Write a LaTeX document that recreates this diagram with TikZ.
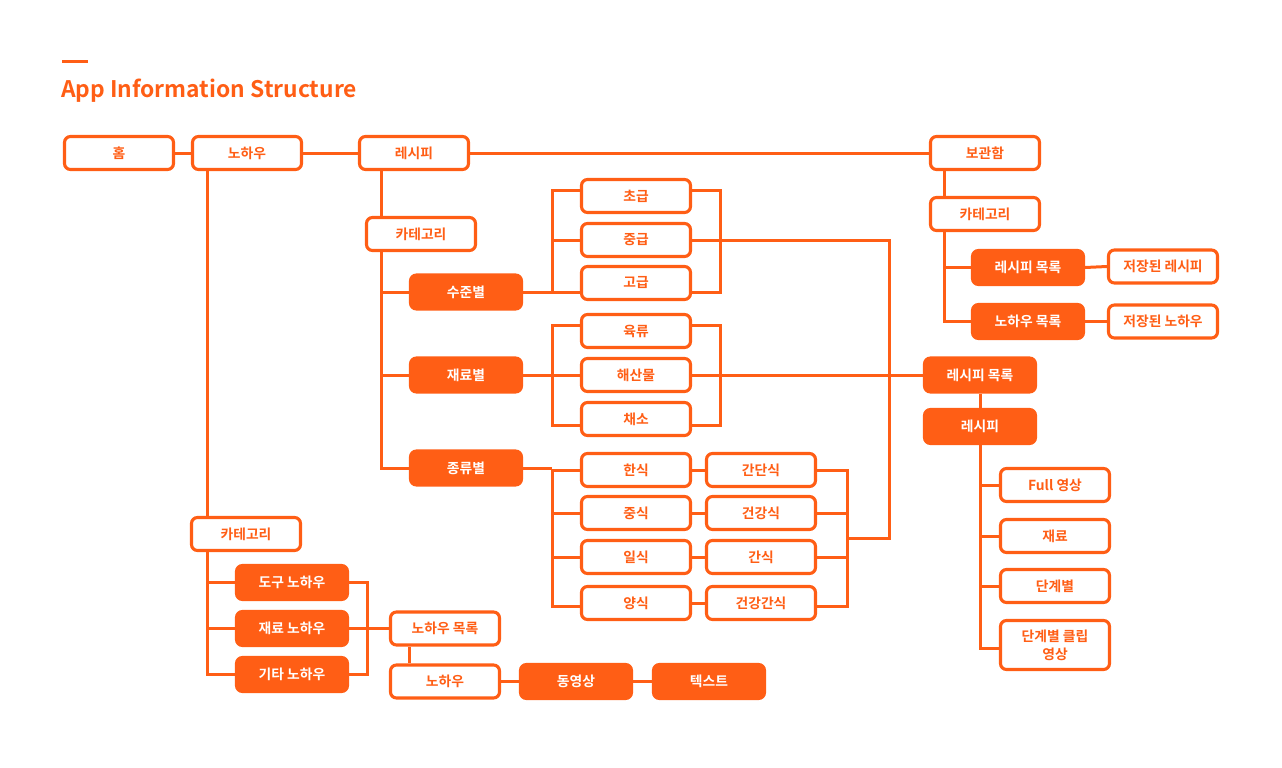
\documentclass[tikz,border=0pt]{standalone}
\usepackage{fontspec}
\setmainfont{Noto Sans CJK KR}[BoldFont={Noto Sans CJK KR Bold}]
\definecolor{org}{RGB}{255,94,21}
\tikzset{
  box/.style={draw=org, line width=3.1pt, rounded corners=6pt, fill=white, text=org,
    minimum width=109pt, minimum height=33pt, inner sep=0pt,
    font=\bfseries\fontsize{13.8}{16}\selectfont, align=center},
  fbox/.style={box, fill=org, text=white, minimum width=111pt, minimum height=34pt},
  conn/.style={draw=org, line width=3pt},
}
\begin{document}
\begin{tikzpicture}[x=1pt,y=-1pt]
\useasboundingbox (0,0) rectangle (1282,768);
% title
\fill[org] (62,60.5) rectangle (88,63.5);
\node[anchor=base west, inner sep=0pt, text=org, font=\bfseries\fontsize{22.8}{26}\selectfont] (title) at (61,97) {App Information Structure};

% top row
\node[box] (home) at (119,153) {홈};
\node[box] (nohau) at (247,153) {노하우};
\node[box] (recipe) at (414,153) {레시피};
\node[box] (bogwan) at (985,153) {보관함};

% recipe branch
\node[box] (rcat) at (421,234) {카테고리};
\node[fbox] (sujun) at (466,292) {수준별};
\node[fbox] (jaeryo) at (466,375) {재료별};
\node[fbox] (jong) at (466,468) {종류별};

\node[box] (cho) at (636,196) {초급};
\node[box] (jung) at (636,240) {중급};
\node[box] (go) at (636,283) {고급};

\node[box] (yuk) at (636,331) {육류};
\node[box] (hae) at (636,375) {해산물};
\node[box] (chae) at (636,419) {채소};

\node[box] (han) at (636,470) {한식};
\node[box] (jungsik) at (636,513) {중식};
\node[box] (il) at (636,557) {일식};
\node[box] (yang) at (636,603) {양식};

\node[box] (gandan) at (761,470) {간단식};
\node[box] (geongang) at (761,513) {건강식};
\node[box] (gansik) at (761,557) {간식};
\node[box] (gg) at (761,603) {건강간식};

% right recipe column
\node[fbox] (rlist) at (980,375) {레시피 목록};
\node[fbox] (recipe2) at (980,426.5) {레시피};
\node[box] (full) at (1055,485) {Full 영상};
\node[box] (jr) at (1055,536) {재료};
\node[box] (dan) at (1055,586) {단계별};
\node[box, minimum height=49pt] (clip) at (1055,645) {단계별 클립\\[2pt]영상};

% storage
\node[box] (scat) at (985,214) {카테고리};
\node[fbox] (srlist) at (1028,267.5) {레시피 목록};
\node[fbox] (snlist) at (1028,321.5) {노하우 목록};
\node[box] (saved1) at (1163,266.5) {저장된 레시피};
\node[box] (saved2) at (1163,321.5) {저장된 노하우};

% nohau branch
\node[box] (lcat) at (246,534) {카테고리};
\node[fbox] (dogu) at (292,582.5) {도구 노하우};
\node[fbox] (jnohau) at (292,628.5) {재료 노하우};
\node[fbox] (gita) at (292,674.5) {기타 노하우};
\node[box] (nlist) at (445,628.5) {노하우 목록};
\node[box] (nohau2) at (445,681.5) {노하우};
\node[fbox] (video) at (576,681.5) {동영상};
\node[fbox] (text) at (709,681.5) {텍스트};

% helper coordinates
\coordinate (v1) at (381,0);
\coordinate (bl) at (552,0);
\coordinate (br) at (720,0);
\coordinate (bt) at (847,0);
\coordinate (vr) at (889,538);
\coordinate (vs) at (944,0);
\coordinate (vn) at (207,0);
\coordinate (bn) at (367,0);
\coordinate (vn2) at (409,0);

% top row connectors
\draw[conn] (home.east) -- (nohau.west);
\draw[conn] (nohau.east) -- (recipe.west);
\draw[conn] (recipe.east) -- (bogwan.west);

% recipe -> category -> groups
\draw[conn] (recipe.south -| v1) -- (rcat.north -| v1);
\draw[conn] (rcat.south -| v1) |- (jong.west);
\draw[conn] (v1 |- sujun.west) -- (sujun.west);
\draw[conn] (v1 |- jaeryo.west) -- (jaeryo.west);

% level group
\draw[conn] (sujun.east) -- (sujun.east -| go.west);
\draw[conn] ([yshift=6pt]cho.west) -| (bl |- sujun.east);
\draw[conn] (jung.west) -- (jung.west -| bl);
\draw[conn] ([yshift=6pt]cho.east) -| (br |- sujun.east) -- (sujun.east -| go.east);
\draw[conn] (jung.east) -| (vr) -- (vr -| bt);

% material group
\draw[conn] (jaeryo.east) -- (hae.west);
\draw[conn] ([yshift=6pt]yuk.west) -| ([yshift=-6pt]bl |- chae.west) -- ([yshift=-6pt]chae.west);
\draw[conn] ([yshift=6pt]yuk.east) -| ([yshift=-6pt]br |- chae.east) -- ([yshift=-6pt]chae.east);
\draw[conn] (hae.east) -- (rlist.west);

% type group
\draw[conn] (jong.east) -- (jong.east -| bl);
\draw[conn] (han.west) -| ([yshift=-3pt]bl |- yang.west) -- ([yshift=-3pt]yang.west);
\draw[conn] (jungsik.west) -- (jungsik.west -| bl);
\draw[conn] (il.west) -- (il.west -| bl);
\draw[conn] (han.east) -- (gandan.west);
\draw[conn] (jungsik.east) -- (geongang.west);
\draw[conn] (il.east) -- (gansik.west);
\draw[conn] (yang.east) -- (gg.west);
\draw[conn] (gandan.east) -| ([yshift=-3pt]bt |- gg.east) -- ([yshift=-3pt]gg.east);
\draw[conn] (geongang.east) -- (geongang.east -| bt);
\draw[conn] (gansik.east) -- (gansik.east -| bt);

% right recipe column
\draw[conn] (rlist.south) -- (recipe2.north);
\draw[conn] (recipe2.south) |- ([yshift=-3pt]clip.west);
\draw[conn] (recipe2.south |- full.west) -- (full.west);
\draw[conn] (recipe2.south |- jr.west) -- (jr.west);
\draw[conn] (recipe2.south |- dan.west) -- (dan.west);

% storage
\draw[conn] (bogwan.south -| vs) -- (scat.north -| vs);
\draw[conn] (scat.south -| vs) |- (snlist.west);
\draw[conn] (vs |- srlist.west) -- (srlist.west);
\draw[conn] (srlist.east) -- (saved1.west);
\draw[conn] (snlist.east) -- (saved2.west);

% nohau branch
\draw[conn] (nohau.south -| vn) -- (lcat.north -| vn);
\draw[conn] (lcat.south -| vn) |- (gita.west);
\draw[conn] (vn |- dogu.west) -- (dogu.west);
\draw[conn] (vn |- jnohau.west) -- (jnohau.west);
\draw[conn] (dogu.east) -| (bn |- gita.east) -- (gita.east);
\draw[conn] (jnohau.east) -- (nlist.west);
\draw[conn] (nlist.south -| vn2) -- (nohau2.north -| vn2);
\draw[conn] (nohau2.east) -- (video.west);
\draw[conn] (video.east) -- (text.west);
\end{tikzpicture}
\end{document}
